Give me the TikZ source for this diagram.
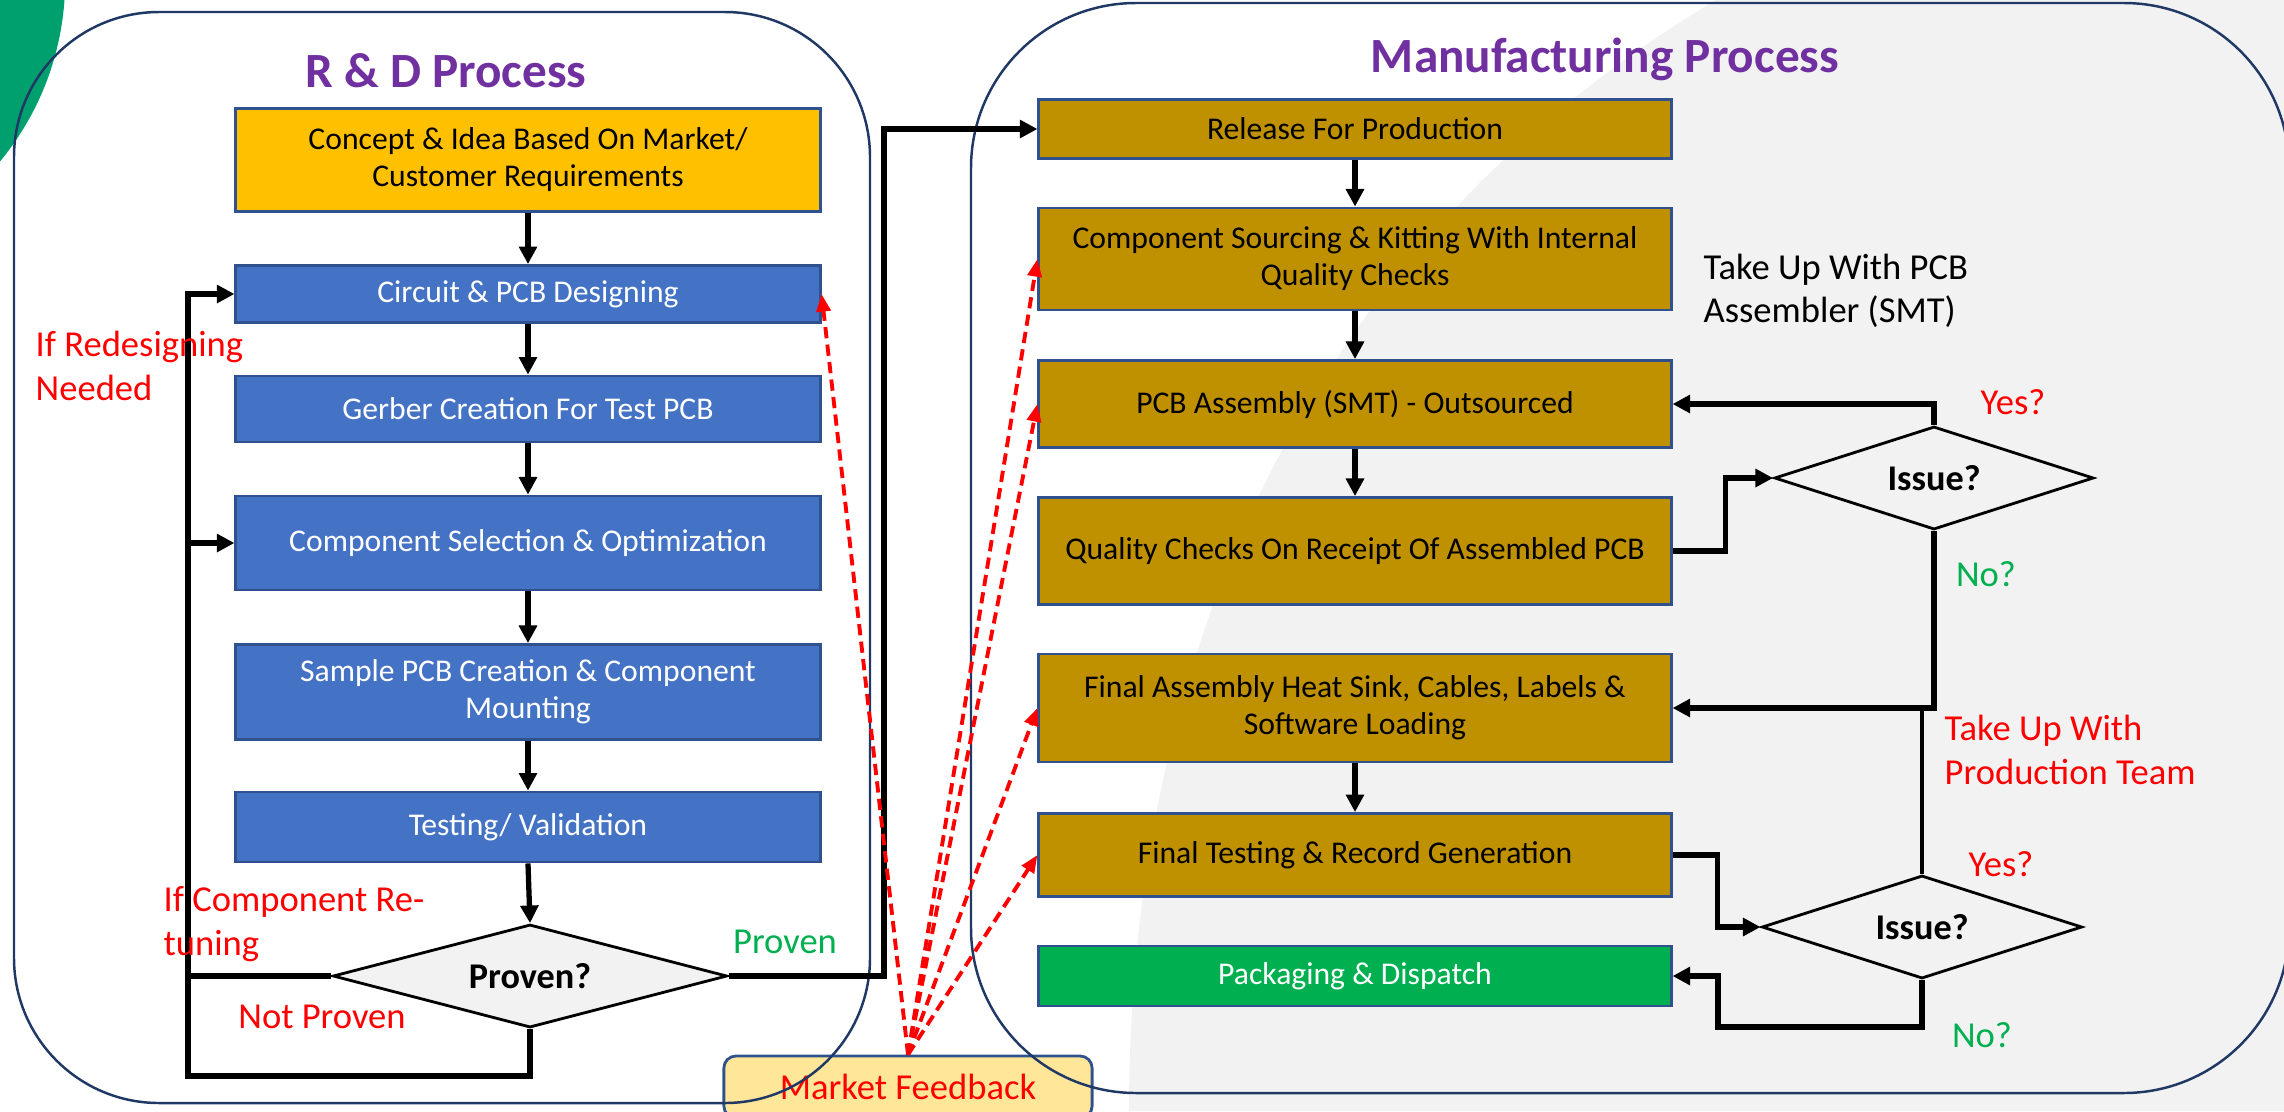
\documentclass[tikz,border=0pt]{standalone}
\usepackage{fontspec}
\setmainfont{Carlito}
\usetikzlibrary{shapes.geometric,arrows.meta}

\begin{document}
\begin{tikzpicture}[x=0.01cm,y=-0.01cm,
        box/.style={draw=boxline, line width=0.8pt, align=center, inner sep=2pt, font=\fontsize{9}{10.5}\selectfont},
        rdbox/.style={box, fill=rdblue, text=white, minimum width=5.84cm},
        mfgbox/.style={box, fill=mfggold, minimum width=6.32cm},
        decide/.style={diamond, aspect=3.5, draw=black, line width=0.8pt, fill=decgray, inner sep=0pt, font=\bfseries\fontsize{10.3}{12}\selectfont},
        note/.style={align=left, inner sep=0pt, font=\fontsize{10.4}{12.4}\selectfont},
        heading/.style={text=headpurple, font=\bfseries\fontsize{14}{16}\selectfont},
        flow/.style={line width=1.5pt, -{Triangle[length=5pt,width=5pt]}},
        flowline/.style={line width=1.5pt},
        feedback/.style={red, line width=1.1pt, dash pattern=on 3.2pt off 1.8pt, -{Triangle[length=5pt,width=4pt]}}]
        % Define colors
        \definecolor{boxline}{RGB}{47,82,143}
        \definecolor{frame}{RGB}{31,56,100}
        \definecolor{rdblue}{RGB}{68,114,196}
        \definecolor{mfggold}{RGB}{191,144,0}
        \definecolor{ideagold}{RGB}{255,192,0}
        \definecolor{okgreen}{RGB}{0,176,80}
        \definecolor{blobgreen}{RGB}{0,160,110}
        \definecolor{decgray}{RGB}{242,242,242}
        \definecolor{fbyellow}{RGB}{255,230,153}
        \definecolor{headpurple}{RGB}{112,48,160}

        \useasboundingbox (0,0) rectangle (2284,1111);

        % Background
        \fill[decgray] (1716,0) .. controls (1330,230) and (1130,620) .. (1129,1111)
            -- (2284,1111) -- (2284,0) -- cycle;
        \fill[blobgreen] (-220,-20) circle (2.85cm);

        % Market feedback
        \node[draw=boxline, line width=0.8pt, fill=fbyellow, rounded corners=0.12cm, text=red,
            minimum width=3.68cm, minimum height=0.62cm, font=\fontsize{10.4}{12.4}\selectfont]
            (market) at (908,1087) {Market Feedback};

        % Process frames
        \draw[frame, line width=0.7pt, rounded corners=1.45cm] (14,12) rectangle (870,1103);
        \draw[frame, line width=0.7pt, rounded corners=1.65cm] (971,3) rectangle (2289,1093);
        \node[heading] (rdtitle) at (446,71) {R \& D Process};
        \node[heading] (mfgtitle) at (1605,59) {Manufacturing Process};

        % R & D steps
        \node[box, fill=ideagold, minimum width=5.84cm, minimum height=1.03cm] (concept) at (528,160)
            {Concept \& Idea Based On Market/\\Customer Requirements};
        \node[rdbox, minimum height=0.57cm] (circuit) at (528,294) {Circuit \& PCB Designing};
        \node[rdbox, minimum height=0.66cm] (gerber) at (528,409) {Gerber Creation For Test PCB};
        \node[rdbox, minimum height=0.94cm] (compsel) at (528,543) {Component Selection \& Optimization};
        \node[rdbox, minimum height=0.95cm] (sample) at (528,692)
            {Sample PCB Creation \& Component\\Mounting};
        \node[rdbox, minimum height=0.70cm] (testing) at (528,827) {Testing/ Validation};
        \node[decide, minimum width=3.94cm, minimum height=1.03cm] (proven) at (530,976) {Proven?};

        % Manufacturing steps
        \node[mfgbox, minimum height=0.59cm] (release) at (1355,129) {Release For Production};
        \node[mfgbox, minimum height=1.02cm] (sourcing) at (1355,259)
            {Component Sourcing \& Kitting With Internal\\Quality Checks};
        \node[mfgbox, minimum height=0.87cm] (pcbasm) at (1355,404) {PCB Assembly (SMT) - Outsourced};
        \node[mfgbox, minimum height=1.07cm] (qcheck) at (1355,551) {Quality Checks On Receipt Of Assembled PCB};
        \node[mfgbox, minimum height=1.08cm] (finalasm) at (1355,708)
            {Final Assembly Heat Sink, Cables, Labels \&\\Software Loading};
        \node[mfgbox, minimum height=0.83cm] (finaltest) at (1355,855) {Final Testing \& Record Generation};
        \node[box, fill=okgreen, text=white, minimum width=6.32cm, minimum height=0.60cm] (packaging) at (1355,976)
            {Packaging \& Dispatch};
        \node[decide, minimum width=3.19cm, minimum height=1.03cm] (issueA) at (1934,478) {Issue?};
        \node[decide, minimum width=3.20cm, minimum height=1.03cm] (issueB) at (1922,927) {Issue?};

        % Straight flow
        \foreach \a/\b in {concept/circuit, circuit/gerber, gerber/compsel, compsel/sample,
                sample/testing, testing/proven, release/sourcing, sourcing/pcbasm,
                pcbasm/qcheck, finalasm/finaltest}
            \draw[flow] (\a.south) -- (\b.north);

        % R & D loops
        \coordinate (loopbl) at (188,1076);
        \coordinate (provenup) at (884,976);
        \draw[flow] (proven.south) |- (loopbl) |- (circuit.west);
        \draw[flowline] (proven.west) -- (proven.west -| loopbl);
        \draw[flow] (loopbl |- compsel.west) -- (compsel.west);
        \draw[flow] (proven.east) -- (provenup) |- (release.west);

        % Manufacturing loops
        \coordinate (packturn) at (1718,1027);
        \draw[flow] (qcheck.east) -- ++(53,0) |- (issueA.west);
        \draw[flow] (issueA.north) |- (pcbasm.east);
        \draw[flow] (issueA.south) |- (finalasm.east);
        \draw[line width=1.1pt] (issueB.north) -- (issueB.north |- finalasm.east);
        \draw[flow] (finaltest.east) -- ++(45,0) |- (issueB.west);
        \draw[flow] (issueB.south) |- (packturn) |- (packaging.east);

        % Feedback arrows
        \foreach \t/\s in {circuit/east, sourcing/west, pcbasm/west, finalasm/west, finaltest/west}
            \draw[feedback] (market.north) -- (\t.\s);

        % Labels
        \node[note, text=red, anchor=west] (redesign) at (35,366) {If Redesigning\\Needed};
        \node[note, text=red, anchor=west] (retune) at (163,924) {If Component Re-\\tuning};
        \node[note, text=red] (notproven) at (322,1017) {Not Proven};
        \node[note, text=okgreen] (provenlbl) at (785,942) {Proven};
        \node[note, anchor=west] (takepcb) at (1703,291) {Take Up With PCB\\Assembler (SMT)};
        \node[note, text=red] (yesA) at (2013,402) {Yes?};
        \node[note, text=okgreen] (noA) at (1986,574) {No?};
        \node[note, text=red, anchor=west] (takeprod) at (1944,750) {Take Up With\\Production Team};
        \node[note, text=red] (yesB) at (2001,864) {Yes?};
        \node[note, text=okgreen] (noB) at (1982,1035) {No?};

\end{tikzpicture}
\end{document}
